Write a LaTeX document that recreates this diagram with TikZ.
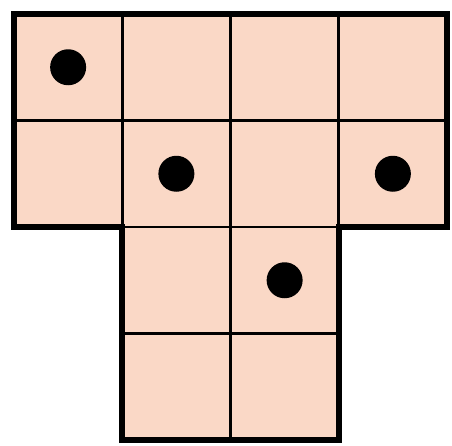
\documentclass[tikz,border=0pt]{standalone}
\usepackage{tikz}
\definecolor{peach}{RGB}{250,216,198}
\begin{document}
\begin{tikzpicture}[x=1pt, y=-1pt,
  cell/.style={draw=black, fill=peach, line width=2.8pt, minimum width=108.25pt,
               minimum height=106.5pt, inner sep=0pt, outer sep=0pt},
  outline/.style={draw=black, line width=6pt, line join=miter},
  dot/.style={circle, fill=black, minimum size=36pt, inner sep=0pt},
]
\useasboundingbox (0,0) rectangle (452,445);
% upper block, two rows of four
\foreach \r in {0,1}
  \foreach \c in {0,...,3}
    \node[cell] (c\r\c) at ({14+108.25*(\c+0.5)}, {14+106.5*(\r+0.5)}) {};
% lower block, two rows of two
\foreach \r in {2,3}
  \foreach \c in {1,2}
    \node[cell] (c\r\c) at ({14+108.25*(\c+0.5)}, {14+106.5*(\r+0.5)}) {};

\draw[outline] (c00.north west) -- (c03.north east) -- (c13.south east)
  -- (c22.north east) -- (c32.south east) -- (c31.south west)
  -- (c21.north west) -- (c10.south west) -- cycle;

\node[dot] (d00) at (c00) {};
\node[dot] (d11) at (c11) {};
\node[dot] (d13) at (c13) {};
\node[dot] (d22) at (c22) {};
\end{tikzpicture}
\end{document}
